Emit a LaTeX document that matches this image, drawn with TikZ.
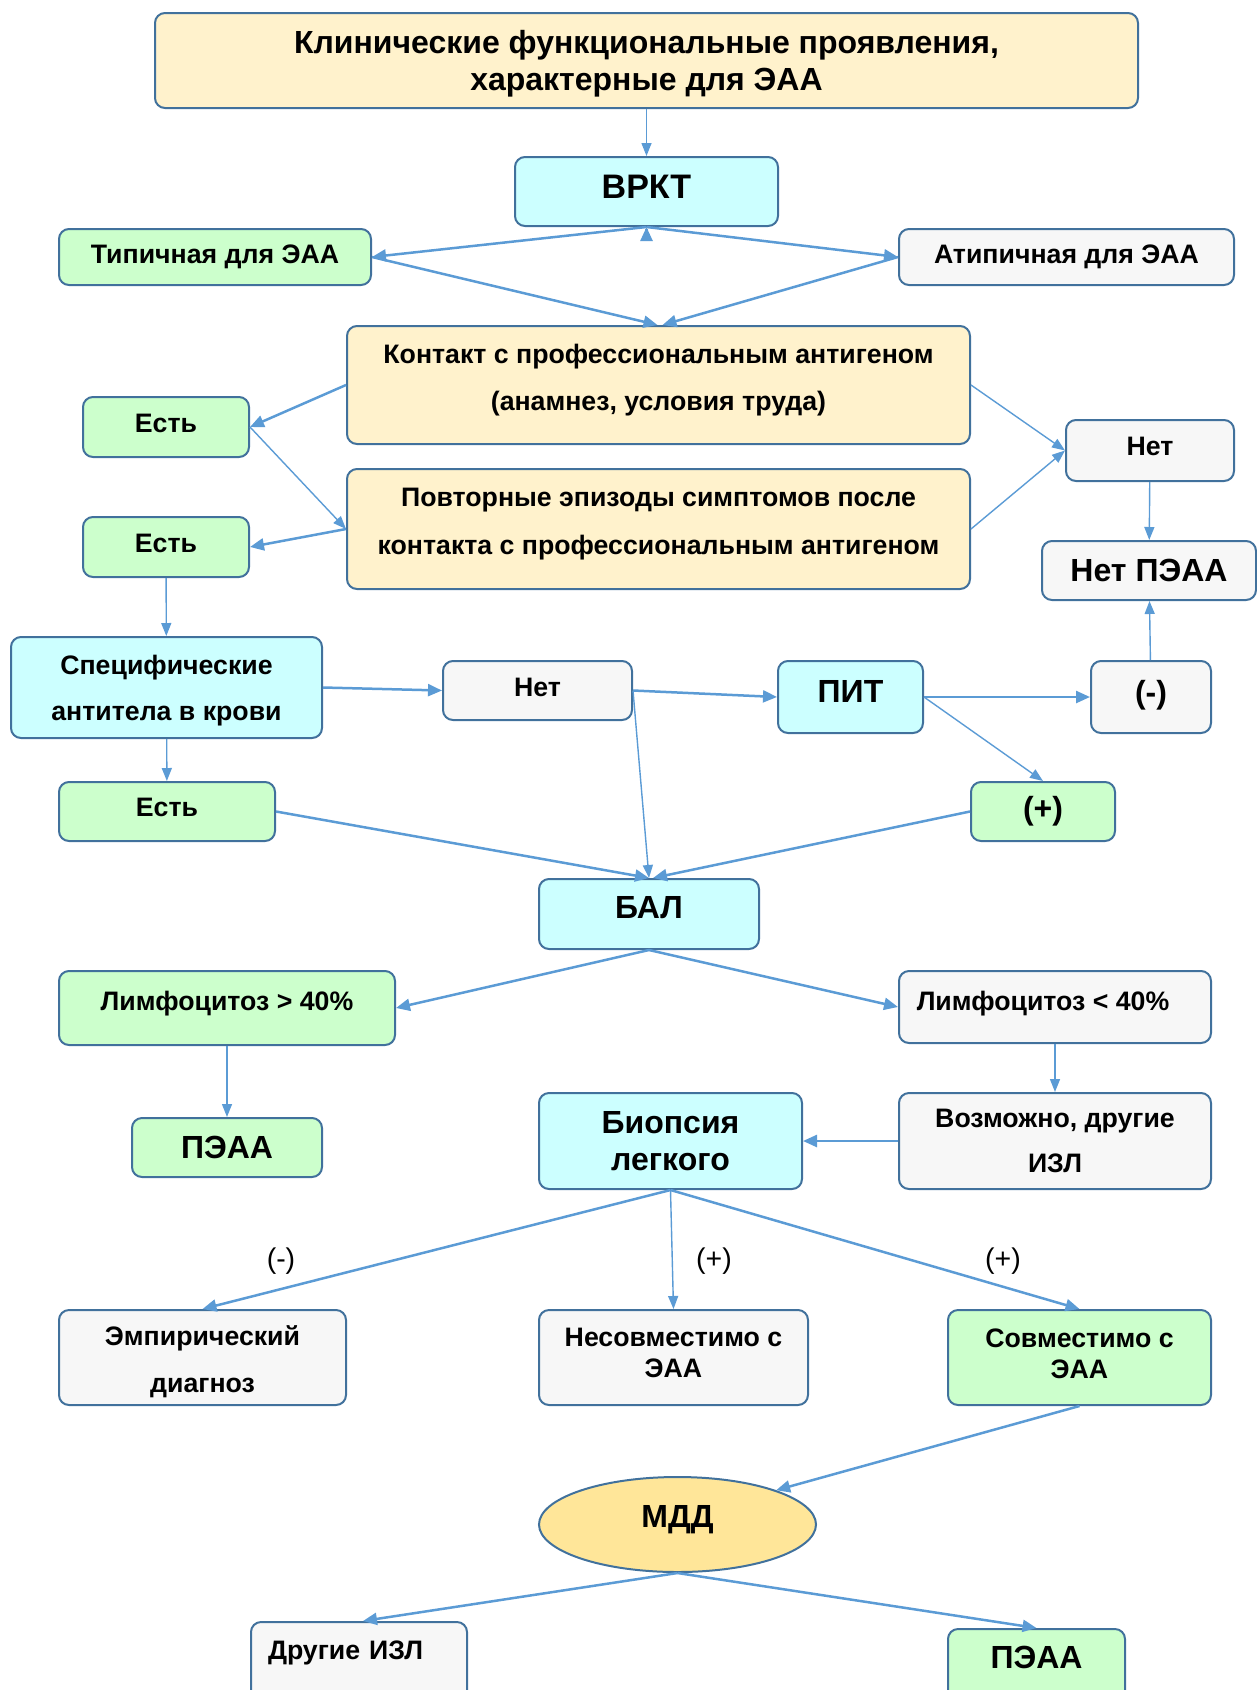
\documentclass[tikz,border=0pt]{standalone}
\usepackage{fontspec}
\setmainfont{Liberation Sans}
\usetikzlibrary{arrows.meta,shapes.geometric}

\definecolor{lineBlue}{HTML}{5B9BD5}
\definecolor{edgeBlue}{HTML}{41719C}
\definecolor{fillYellow}{HTML}{FFF2CC}
\definecolor{fillCyan}{HTML}{CCFFFF}
\definecolor{fillGreen}{HTML}{CCFFCC}
\definecolor{fillGray}{HTML}{F7F7F7}
\definecolor{fillGold}{HTML}{FFE699}

% struts to move a text up (more depth) or down (more height) in its box
\newcommand{\liftTxt}[1]{\rule[-#1]{0pt}{0pt}}
\newcommand{\dropTxt}[1]{\rule{0pt}{#1}}

\tikzset{
  box/.style={draw=edgeBlue, line width=2pt, rounded corners=10pt, align=center,
    inner sep=0pt, font=\bfseries\fontsize{26.7}{31}\selectfont},
  ylwBox/.style={box, fill=fillYellow},
  cyanBox/.style={box, fill=fillCyan},
  greenBox/.style={box, fill=fillGreen},
  grayBox/.style={box, fill=fillGray},
  bigText/.style={font=\bfseries\fontsize{32}{37}\selectfont},
  signLbl/.style={font=\fontsize{28.5}{32}\selectfont, inner sep=0pt},
  arrThick/.style={draw=lineBlue, line width=2.5pt, -{Triangle[length=14pt,width=12pt]}},
  arrThin/.style={draw=lineBlue, line width=1.4pt, -{Triangle[length=13pt,width=10pt]}},
}

\begin{document}
\begin{tikzpicture}[x=1pt, y=-1pt]
  \clip (0,0) rectangle (1257,1690);

  % upper part
  \node[ylwBox, minimum width=983, minimum height=95, font=\bfseries\fontsize{32}{37}\selectfont]
    (clinical) at (646.5,60.5) {\dropTxt{30pt}Клинические функциональные проявления,\\характерные для ЭАА};
  \node[cyanBox, minimum width=263, minimum height=69, font=\bfseries\fontsize{34}{40}\selectfont]
    (hrct) at (646.5,191.5) {ВРКТ\liftTxt{9pt}};
  \node[greenBox, minimum width=312, minimum height=56] (typical) at (215,257) {Типичная для ЭАА};
  \node[grayBox, minimum width=335, minimum height=56] (atypical) at (1066.5,257) {Атипичная для ЭАА};

  \node[ylwBox, minimum width=623, minimum height=118, font=\bfseries\fontsize{26.7}{47}\selectfont]
    (contact) at (658.5,385) {Контакт с профессиональным антигеном\\(анамнез, условия труда)\liftTxt{16pt}};
  \node[ylwBox, minimum width=623, minimum height=120, font=\bfseries\fontsize{26.7}{48}\selectfont]
    (repeated) at (658.5,529) {Повторные эпизоды симптомов после\\контакта с профессиональным антигеном\liftTxt{16pt}};
  \node[greenBox, minimum width=166, minimum height=60] (yesContact) at (166,427) {Есть\liftTxt{6.5pt}};
  \node[greenBox, minimum width=166, minimum height=60] (yesRepeat) at (166,547) {Есть\liftTxt{6.5pt}};
  \node[grayBox, minimum width=168, minimum height=61] (noExpo) at (1150,450.5) {Нет\liftTxt{8pt}};
  \node[grayBox, bigText, minimum width=214, minimum height=59] (noHP) at (1149,570.5) {Нет ПЭАА};

  % antibodies and provocation
  \node[cyanBox, minimum width=311, minimum height=101, font=\bfseries\fontsize{26.7}{46}\selectfont]
    (antibodies) at (166.5,687.5) {\dropTxt{26pt}Специфические\\антитела в крови};
  \node[grayBox, minimum width=189, minimum height=59] (noAb) at (537.5,690.5) {Нет\liftTxt{6.5pt}};
  \node[cyanBox, bigText, minimum width=145, minimum height=72] (pit) at (850.5,697) {ПИТ\liftTxt{11pt}};
  \node[grayBox, bigText, minimum width=120, minimum height=72] (pitNeg) at (1151,697) {(-)\liftTxt{11pt}};
  \node[greenBox, minimum width=216, minimum height=59] (yesAb) at (167,811.5) {Есть\liftTxt{8pt}};
  \node[greenBox, bigText, minimum width=144, minimum height=59] (pitPos) at (1043,811.5) {(+)};

  % lavage
  \node[cyanBox, bigText, minimum width=220, minimum height=70] (bal) at (649,914) {БАЛ\liftTxt{13pt}};
  \node[greenBox, minimum width=336, minimum height=74] (lymphHigh) at (227,1008) {Лимфоцитоз > 40\%\liftTxt{14pt}};
  \node[grayBox, minimum width=312, minimum height=72] (lymphLow) at (1055,1007) {Лимфоцитоз < 40\%\hspace*{24pt}\liftTxt{12pt}};
  \node[greenBox, bigText, minimum width=190, minimum height=59] (hp) at (227,1147.5) {ПЭАА};
  \node[cyanBox, minimum width=263, minimum height=96, font=\bfseries\fontsize{32}{37}\selectfont]
    (biopsy) at (670.5,1141) {Биопсия\\легкого};
  \node[grayBox, minimum width=312, minimum height=96, font=\bfseries\fontsize{26.7}{45}\selectfont]
    (otherILD) at (1055,1141) {Возможно, другие\\ИЗЛ};

  % biopsy results
  \node[grayBox, minimum width=287, minimum height=95, font=\bfseries\fontsize{26.7}{47}\selectfont]
    (empiric) at (202.5,1357.5) {\dropTxt{29pt}Эмпирический\\диагноз};
  \node[grayBox, minimum width=269, minimum height=95] (incompatible) at (673.5,1357.5) {Несовместимо с\\ЭАА\liftTxt{8.5pt}};
  \node[greenBox, minimum width=263, minimum height=95] (compatible) at (1079.5,1357.5) {Совместимо с\\ЭАА\liftTxt{8.5pt}};
  \node[ellipse, draw=edgeBlue, fill=fillGold, line width=2pt, inner sep=0pt, bigText,
    minimum width=277, minimum height=95] (mdd) at (677.5,1524.5) {МДД\liftTxt{17pt}};
  \node[grayBox, anchor=north, align=left, text width=182, inner xsep=17pt, inner ysep=8pt,
    text height=29, text depth=80] (otherDx) at (359,1621) {Другие ИЗЛ};
  \node[greenBox, bigText, anchor=north, minimum width=177, inner ysep=8pt,
    text height=31, text depth=70] (hpFinal) at (1036.5,1628) {ПЭАА};

  \node[signLbl] (signNeg) at (281,1261) {(-)};
  \node[signLbl] (signPosA) at (714,1261) {(+)};
  \node[signLbl] (signPosB) at (1003,1261) {(+)};

  % connectors
  \coordinate (hrctFoot) at ([yshift=-2pt]hrct.south);
  \draw[arrThin] (clinical) -- (hrct);
  \draw[arrThick] (hrctFoot) -- (hrct.south);
  \draw[arrThick] (hrct.south) -- (typical.east);
  \draw[arrThick] (hrct.south) -- (atypical.west);
  \draw[arrThick] (typical.east) -- ([xshift=-1pt]contact.north);
  \draw[arrThick] (atypical.west) -- ([xshift=4pt]contact.north);
  \draw[arrThick] (contact.west) -- (yesContact.east);
  \draw[arrThin] (yesContact.east) -- (repeated.west);
  \draw[arrThick] (repeated.west) -- (yesRepeat.east);
  \draw[arrThin] (contact.east) -- (noExpo.west);
  \draw[arrThin] (repeated.east) -- (noExpo.west);
  \draw[arrThin] (noExpo) -- (noHP);
  \draw[arrThin] (yesRepeat) -- (antibodies);
  \draw[arrThick] (antibodies.east) -- (noAb.west);
  \draw[arrThin] (antibodies) -- (yesAb);
  \draw[arrThick] (noAb.east) -- (pit.west);
  \draw[arrThin] (noAb.east) -- (bal.north);
  \draw[arrThick] (pit.east) -- (pitNeg.west);
  \draw[arrThin] (pit.east) -- (pitPos.north);
  \draw[arrThin] (pitNeg) -- (noHP);
  \draw[arrThick] (yesAb.east) -- (bal.north);
  \draw[arrThick] (pitPos.west) -- ([xshift=4pt]bal.north);
  \draw[arrThick] (bal.south) -- (lymphHigh.east);
  \draw[arrThick] (bal.south) -- (lymphLow.west);
  \draw[arrThin] (lymphHigh) -- (hp);
  \draw[arrThin] (lymphLow) -- (otherILD);
  \draw[arrThick] (otherILD.west) -- (biopsy.east);
  \draw[arrThick] (biopsy.south) -- (empiric.north);
  \draw[arrThin] (biopsy.south) -- (incompatible.north);
  \draw[arrThick] (biopsy.south) -- (compatible.north);
  \draw[arrThick] (compatible.south) -- (mdd.north east);
  \draw[arrThick] (mdd.south) -- ([xshift=4pt]otherDx.north);
  \draw[arrThick] (mdd.south) -- (hpFinal.north);
\end{tikzpicture}
\end{document}
